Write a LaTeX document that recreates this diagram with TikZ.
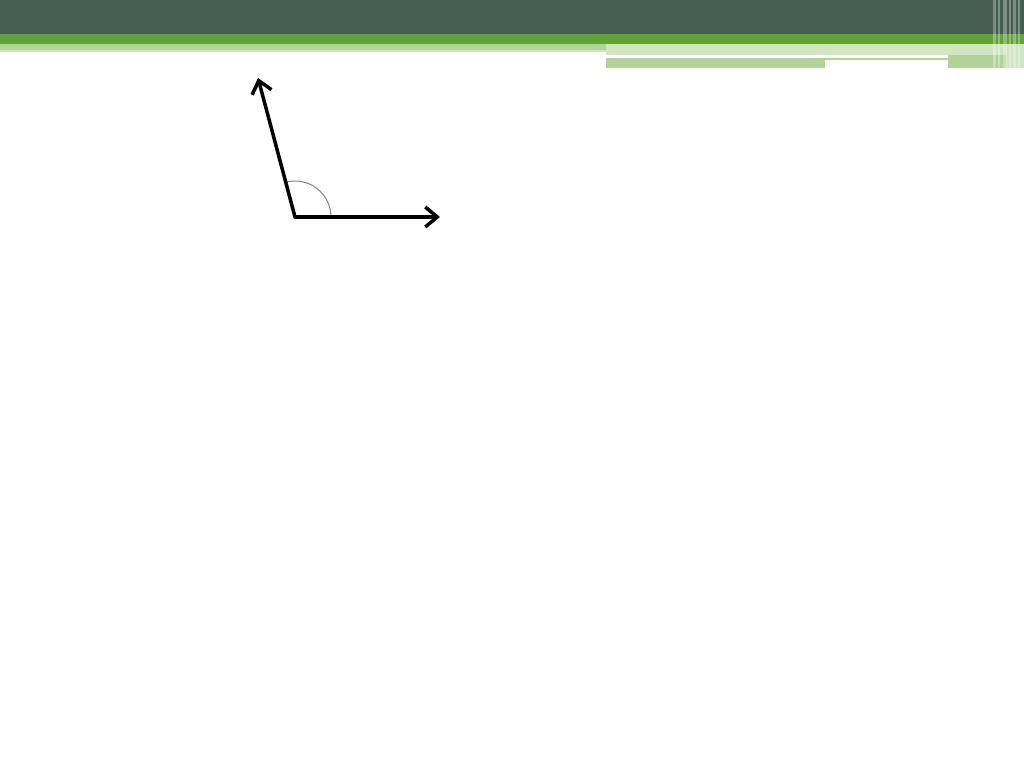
\documentclass[tikz,border=0pt]{standalone}
\usetikzlibrary{arrows.meta,calc}
\definecolor{headdark}{HTML}{465E51}
\definecolor{headgreen}{HTML}{62A337}
\definecolor{headlight}{HTML}{B2D29A}
\definecolor{headpale}{HTML}{D2E5C3}
\definecolor{arcgray}{HTML}{808080}
\tikzset{ray/.style={line width=3.5pt,-{Straight Barb[length=12pt,width=20pt]}},
  stripe/.style={fill=white,opacity=0.3}}
\begin{document}
\begin{tikzpicture}[x=1pt,y=1pt]
\useasboundingbox (0,0) rectangle (1024,768);
\fill[white] (0,0) rectangle (1024,768);
% header bands
\fill[headdark] (0,734) rectangle (1024,768);
\fill[headgreen] (0,724) rectangle (1024,734);
\fill[headlight] (0,718) rectangle (606,724);
\fill[headlight!60!white] (0,716) rectangle (606,718);
\fill[headpale] (606,713) rectangle (1024,724);
\fill[headlight] (606,700) rectangle (825,710);
\fill[headlight] (825,708) rectangle (948,710);
\fill[headlight] (948,700) rectangle (1006,713);
\fill[headpale] (1006,700) rectangle (1024,713);
% right edge stripes
\foreach \x/\w in {993/3,998/2,1003/4,1009/2,1013/3,1018/2} {
  \fill[stripe] (\x,700) rectangle (\x+\w,768);
}
% the angle
\coordinate (O) at (295,551);
\coordinate (A) at (440,551);
\coordinate (B) at (258,690);
\draw[arcgray,line width=1pt] ($(O)+(36,0)$) arc (0:105:36);
\draw[ray,line cap=round] (O) -- (A);
\draw[ray,line cap=round] (O) -- (B);
\end{tikzpicture}
\end{document}
